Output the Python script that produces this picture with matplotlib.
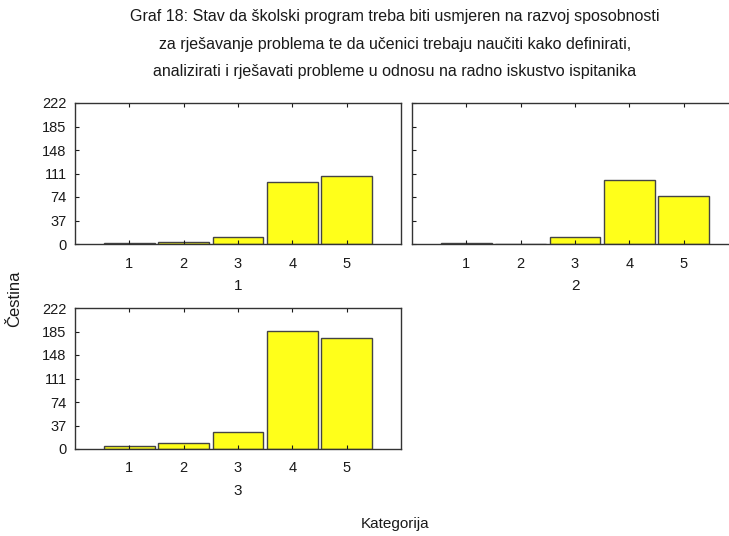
import matplotlib.pyplot as plt

plt.rcParams['font.family'] = ['Liberation Sans', 'DejaVu Sans']

categories = [1, 2, 3, 4, 5]
group1 = [2, 3, 11, 97, 107]
group2 = [1, 0, 11, 100, 76]
group3 = [4, 10, 27, 186, 174]
yticks = [0, 37, 74, 111, 148, 185, 222]

title_lines = ["Graf 18: Stav da školski program treba biti usmjeren na razvoj sposobnosti",
               "za rješavanje problema te da učenici trebaju naučiti kako definirati,",
               "analizirati i rješavati probleme u odnosu na radno iskustvo ispitanika"]

fig = plt.figure(figsize=(7.29, 5.36), dpi=100)
W, H = 729, 536

def panel(left, top, right, bottom, values, name, labels=True):
    ax = fig.add_axes([left / W, 1 - bottom / H, (right - left) / W, (bottom - top) / H])
    ax.bar(categories, values, width=0.93, color='#ffff1a', edgecolor='#444444', linewidth=1)
    ax.set_xlim(0, 6)
    ax.set_ylim(0, 222)
    ax.set_xticks(categories)
    ax.set_yticks(yticks)
    ax.tick_params(direction='in', top=True, length=3, labelsize=10.5, colors='#1a1a1a')
    ax.tick_params(axis='x', pad=9)
    ax.tick_params(axis='y', pad=6)
    if not labels:
        ax.set_yticklabels([])
    for s in ax.spines.values():
        s.set_color('#333333')
        s.set_linewidth(1)
    ax.set_xlabel(name, fontsize=11, labelpad=6, color='#1a1a1a')
    return ax

panel(75, 103, 401, 244, group1, "1")
panel(412, 103, 738, 244, group2, "2", labels=False)
panel(75, 308, 401, 449, group3, "3")

for i, line in enumerate(title_lines):
    fig.text(395 / W, 1 - (17 + i * 27.5) / H, line, ha='center', va='center', fontsize=11.5, color='#1a1a1a')

fig.text(15 / W, 1 - 299 / H, "Čestina", rotation=90, ha='center', va='center', fontsize=12, color='#1a1a1a')
fig.text(395 / W, 1 - 524 / H, "Kategorija", ha='center', va='center', fontsize=11, color='#1a1a1a')

fig.savefig("out.png", dpi=100)
